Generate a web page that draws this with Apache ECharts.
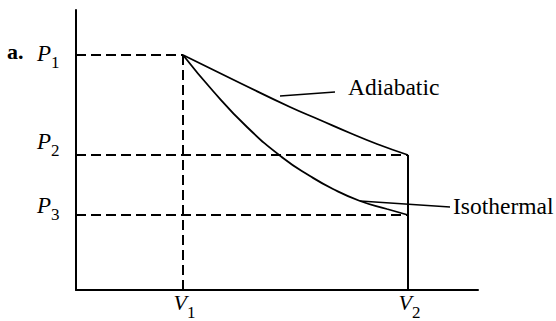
<!DOCTYPE html>
<html><head><meta charset="utf-8">
<script src="https://cdn.jsdelivr.net/npm/echarts@6/dist/echarts.min.js"></script>
<style>html,body{margin:0;padding:0;background:#fff}#c{width:556px;height:321px}</style>
</head><body><div id="c"></div>
<script>
// ---- data ----
const V = [107, 332];            // V1, V2
const P = [235, 135, 75];        // P1, P2, P3
const vLabels = [['V', '1'], ['V', '2']];
const pLabels = [['P', '1'], ['P', '2'], ['P', '3']];
const adiabaticV = [107, 164, 214, 244, 274, 301, 332];
const adiabaticP = [235, 207, 183, 170, 157, 146, 135];
const isothermalV = [107, 137, 171, 207, 234, 257, 284, 311, 332];
const isothermalP = [235, 199, 163, 132, 114, 101, 89, 81, 75];
const curveNames = ['Adiabatic', 'Isothermal'];
const adiabaticLeader = [[204, 194], [259, 198]];
const isothermalLeader = [[284, 89], [374, 83]];
const curveLabelAt = [[272, 203], [377, 84]];
const partLabel = 'a.';

// ---- style ----
const FONT = '"Liberation Serif", "Times New Roman", serif';
const dash = [10, 5];
const chart = echarts.init(document.getElementById('c'), null, {renderer: 'svg'});
const zip = (a, b) => a.map((x, i) => [x, b[i]]);
const guide = (data, solid) => ({
  type: 'line', data, symbol: 'none', silent: true,
  lineStyle: {color: '#000', width: 2, type: solid ? 'solid' : dash}
});
const curve = (name, data) => ({
  name, type: 'line', smooth: 0.5, symbol: 'none', data,
  lineStyle: {color: '#000', width: 1.8}
});
const series = [
  curve(curveNames[0], zip(adiabaticV, adiabaticP)),
  curve(curveNames[1], zip(isothermalV, isothermalP)),
  guide([[0, P[0]], [V[0], P[0]]]),
  guide([[V[0], 0], [V[0], P[0]]]),
  guide([[0, P[1]], [V[1], P[1]]]),
  guide([[0, P[2]], [V[1], P[2]]]),
  guide([[V[1], 0], [V[1], P[1]]], true),
  {type: 'line', data: adiabaticLeader, symbol: 'none', lineStyle: {color: '#000', width: 1.5}},
  {type: 'line', data: isothermalLeader, symbol: 'none', lineStyle: {color: '#000', width: 1.5}}
];
const axisCommon = {
  type: 'value', min: 0,
  axisLine: {show: true, lineStyle: {color: '#000', width: 2}},
  axisTick: {show: false}, axisLabel: {show: false}, splitLine: {show: false}
};
chart.setOption({
  animation: false,
  grid: {left: 76, top: 10, width: 402, height: 280, containLabel: false},
  xAxis: Object.assign({}, axisCommon, {max: 402}),
  yAxis: Object.assign({}, axisCommon, {max: 280}),
  series
});

// ---- text labels positioned through the axes ----
const g = [];
const txt = (text, x, y, size, opts) => g.push({type: 'text', x, y, style: Object.assign({text, fontFamily: FONT, fontSize: size, fill: '#000', verticalAlign: 'middle'}, opts || {})});
const pDy = [-2, -14, -10];
P.forEach((p, i) => {
  const y = chart.convertToPixel({yAxisIndex: 0}, p);
  txt(pLabels[i][0], 51, y + pDy[i], 23, {fontStyle: 'italic', align: 'right'});
  txt(pLabels[i][1], 51, y + pDy[i] + 9, 17, {align: 'left'});
});
{
  const y = chart.convertToPixel({yAxisIndex: 0}, P[0]);
  txt(partLabel, 7, y - 4, 22, {fontWeight: 'bold', align: 'left'});
}
V.forEach((v, i) => {
  const x = chart.convertToPixel({xAxisIndex: 0}, v);
  const y0 = chart.convertToPixel({yAxisIndex: 0}, 0);
  txt(vLabels[i][0], x + 4, y0 + 12, 22, {fontStyle: 'italic', align: 'right'});
  txt(vLabels[i][1], x + 4, y0 + 22, 17, {align: 'left'});
});
curveLabelAt.forEach((pt, i) => {
  const [x, y] = chart.convertToPixel({gridIndex: 0}, pt);
  g.push({type: 'text', x, y, style: {text: curveNames[i], fontFamily: FONT, fontSize: 23.5, fill: '#000', align: 'left', verticalAlign: 'middle'}});
});
chart.setOption({graphic: g});
</script></body></html>
